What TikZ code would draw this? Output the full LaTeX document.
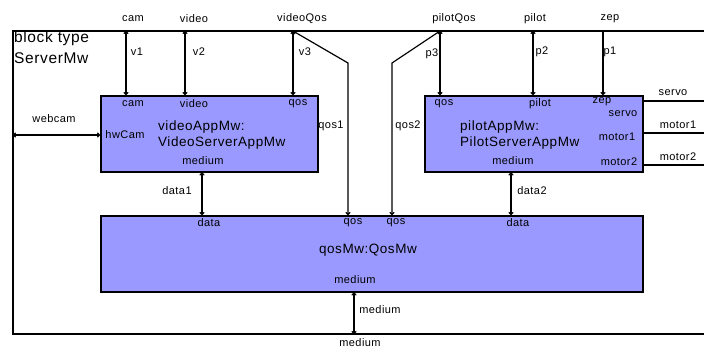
\documentclass[tikz,border=0pt]{standalone}
\usepackage{fontspec}
\setmainfont{Liberation Sans}[LetterSpace=4]
\usetikzlibrary{arrows.meta}
\definecolor{boxblue}{HTML}{9999FF}
\begin{document}
\begin{tikzpicture}[x=1pt, y=-1pt,
block/.style={draw, line width=1.5pt, fill=boxblue, anchor=north west, inner sep=0pt},
port/.style={inner sep=0pt, font=\fontsize{11}{13}\selectfont},
title/.style={inner sep=0pt, anchor=west, align=left, font=\fontsize{13.5}{16}\selectfont},
conn/.style={line width=1.2pt},
both/.style={conn, {To[length=3pt,width=5pt]}-{To[length=3pt,width=5pt]}},
down/.style={conn, -{To[length=3pt,width=5pt]}}
]
\useasboundingbox (0,0) rectangle (704,349);

% enclosing block
\draw[line width=1.5pt] (704,31) -- (13,31) -- (13,334) -- (704,334);
\node[inner sep=0pt, anchor=north west, align=left, font=\fontsize{15.5}{21}\selectfont] (btype) at (14,31) {block type\\ServerMw};

% parts
\node[block, minimum width=217pt, minimum height=76pt] (vid) at (100,95) {};
\node[block, minimum width=218pt, minimum height=76pt] (pil) at (424,95) {};
\node[block, minimum width=542pt, minimum height=76pt] (qos) at (100,215) {};

\node[title] (vidt) at (158,135) {videoAppMw:\\VideoServerAppMw};
\node[title] (pilt) at (460,135) {pilotAppMw:\\PilotServerAppMw};
\node[title, anchor=center] (qost) at (368,250) {qosMw:QosMw};

% outer ports
\coordinate (fcam) at (126,31);
\coordinate (fvideo) at (185,31);
\coordinate (fvqos) at (293,31);
\coordinate (fpqos) at (440,31);
\coordinate (fpilot) at (533,31);
\coordinate (fzep) at (603,31);
\coordinate (fweb) at (13,135);
\coordinate (fmed) at (354,334);
\coordinate (fservo) at (704,101);
\coordinate (fmot1) at (704,133);
\coordinate (fmot2) at (704,165);
\coordinate (q1) at (348,63);
\coordinate (q2) at (392,63);
\coordinate (d1) at (202,0);
\coordinate (d2) at (511,0);

% connectors
\draw[both] (fcam) -- (fcam |- vid.north);
\draw[both] (fvideo) -- (fvideo |- vid.north);
\draw[both] (fvqos) -- (fvqos |- vid.north);
\draw[both] (fpqos) -- (fpqos |- pil.north);
\draw[both] (fpilot) -- (fpilot |- pil.north);
\draw[down] (fzep) -- (fzep |- pil.north);
\draw[both] (fweb) -- (fweb -| vid.west);
\draw[both] (fvqos) -- (q1) -- (q1 |- qos.north);
\draw[both] (fpqos) -- (q2) -- (q2 |- qos.north);
\draw[both] (d1 |- vid.south) -- (d1 |- qos.north);
\draw[both] (d2 |- pil.south) -- (d2 |- qos.north);
\draw[both] (fmed |- qos.south) -- (fmed);
\draw[conn] (fservo -| pil.east) -- (fservo);
\draw[conn] (fmot1 -| pil.east) -- (fmot1);
\draw[conn] (fmot2 -| pil.east) -- (fmot2);

% port and connector labels
\node[port] at (133,19) {cam};
\node[port] at (194,19) {video};
\node[port] at (302,19) {videoQos};
\node[port] at (454,19) {pilotQos};
\node[port] at (535,19) {pilot};
\node[port] at (610,19) {zep};
\node[port] at (137,52) {v1};
\node[port] at (199,52) {v2};
\node[port] at (305,52) {v3};
\node[port] at (432,54) {p3};
\node[port] at (542,52) {p2};
\node[port] at (610,52) {p1};
\node[port] at (54,119) {webcam};
\node[port] at (331,126) {qos1};
\node[port] at (408,126) {qos2};
\node[port] at (177,191) {data1};
\node[port] at (532,191) {data2};
\node[port] at (380,310) {medium};
\node[port] at (360,343) {medium};
\node[port] at (673,93) {servo};
\node[port] at (678,125) {motor1};
\node[port] at (678,157) {motor2};

\node[port] at (133,104) {cam};
\node[port] at (194,104) {video};
\node[port] at (298,104) {qos};
\node[port] at (125,135) {hwCam};
\node[port] at (203,161) {medium};
\node[port] at (444,104) {qos};
\node[port] at (540,104) {pilot};
\node[port] at (602,102) {zep};
\node[port] at (623,114) {servo};
\node[port] at (617,137) {motor1};
\node[port] at (619,162) {motor2};
\node[port] at (513,161) {medium};
\node[port] at (209,223) {data};
\node[port] at (353,223) {qos};
\node[port] at (396,223) {qos};
\node[port] at (518,223) {data};
\node[port] at (355,280) {medium};
\end{tikzpicture}
\end{document}
